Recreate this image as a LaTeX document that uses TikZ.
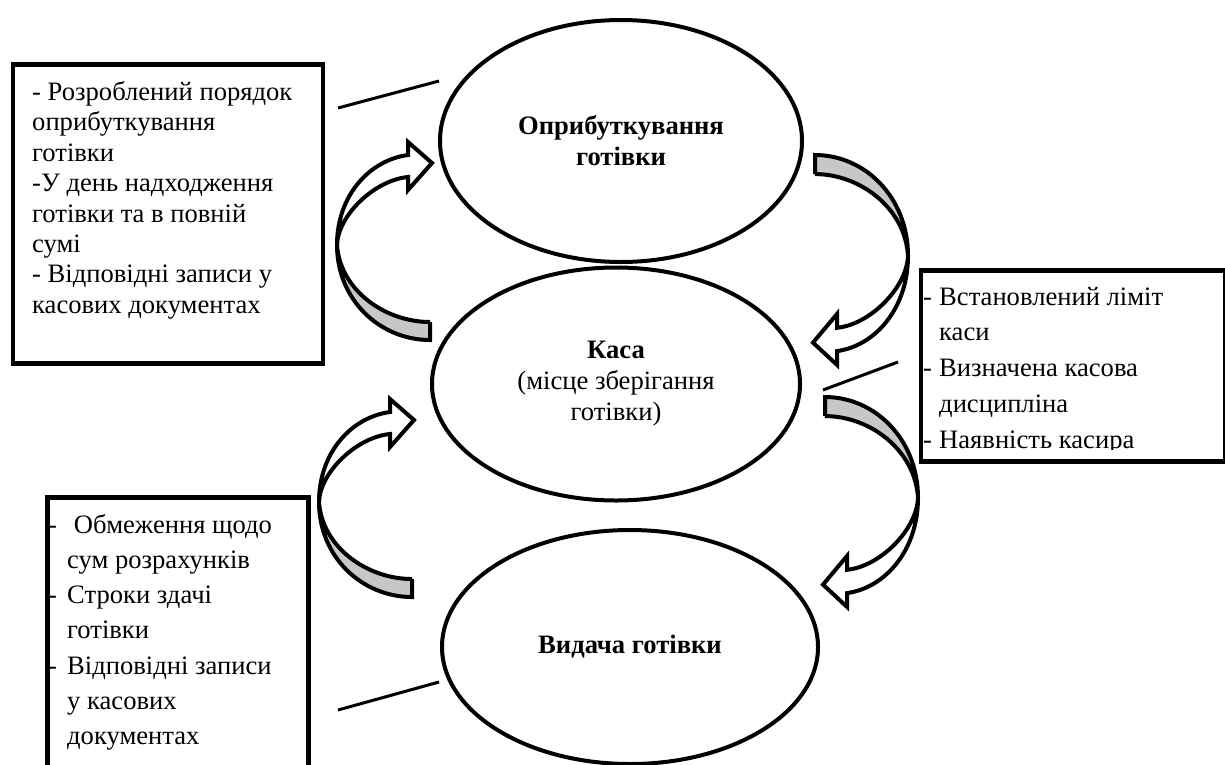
\documentclass[tikz,border=0pt]{standalone}
\usepackage{fontspec}
\setmainfont{Liberation Serif}
\usetikzlibrary{shapes.geometric}

\newcommand{\hangdash}[2][16pt]{\makebox[#1][l]{-}#2}
\newcommand{\hangcont}[2][16pt]{\hspace*{#1}#2}

\tikzset{
  stage/.style={ellipse, draw, line width=4pt, align=center,
    font=\fontsize{26.6}{31}\selectfont\bfseries},
  notebox/.style={draw, line width=4.5pt, anchor=north west, inner sep=0pt},
  noteline/.style={anchor=base west, inner sep=0pt,
    font=\fontsize{26.6}{30}\selectfont},
  link/.style={line width=3pt},
  arrowline/.style={line width=4pt},
  backgrey/.style={fill=black!22},
  twistarrow/.pic={
    % back face
    \fill[backgrey] (0,0) .. controls (-50,0) and (-93,-40) .. (-93,-95)
      .. controls (-90,-50) and (-45,-18) .. (0,-18) -- cycle;
    % front face
    \fill[white] (-93,-95) .. controls (-93,-145) and (-60,-180) .. (-22,-185)
      -- (-22,-198) -- (2,-177) -- (-22,-150) -- (-22,-163)
      .. controls (-55,-160) and (-92,-125) .. (-93,-95) -- cycle;
    \draw[arrowline] (0,-18) -- (0,0) .. controls (-50,0) and (-93,-40) .. (-93,-95)
      .. controls (-93,-145) and (-60,-180) .. (-22,-185)
      -- (-22,-198) -- (2,-177) -- (-22,-150) -- (-22,-163)
      .. controls (-55,-160) and (-92,-125) .. (-93,-95)
      .. controls (-90,-50) and (-45,-18) .. (0,-18);
  }
}

\begin{document}
\begin{tikzpicture}[x=1pt, y=-1pt]
  \useasboundingbox (0,0) rectangle (1225,764);

  % curved arrows
  \pic at (430,340) {twistarrow};
  \pic[xscale=-1, yscale=-1.06] at (815,155) {twistarrow};
  \pic at (412,597) {twistarrow};
  \pic[xscale=-1, yscale=-1.06] at (825,397) {twistarrow};

  % stages
  \node[stage, minimum width=362, minimum height=242] (inflow) at (621,141)
    {Оприбуткування\\готівки};
  \node[stage, minimum width=368, minimum height=233] (cash) at (616,384)
    {Каса\\\mdseries(місце зберігання\\\mdseries готівки)};
  \node[stage, minimum width=376, minimum height=234] (outflow) at (630,647)
    {Видача готівки};

  % rule boxes
  \node[notebox, minimum width=310, minimum height=299] (inrule) at (10.5,62) {};
  \node[notebox, minimum width=304.5, minimum height=191] (kasrule) at (918.5,268) {};
  \node[notebox, minimum width=261, minimum height=300] (outrule) at (45,495) {};

  \foreach \txt [count=\i from 0] in {- Розроблений порядок, оприбуткування,
      готівки, -У день надходження, готівки та в повній, сумі,
      - Відповідні записи у, касових документах}
    \node[noteline] (inln\i) at (32, 100.5+30.4*\i) {\txt};

  \begin{scope}
    \clip (920.5,270) rectangle (1221,449);
    \foreach \txt [count=\i from 0] in {{\hangdash{Встановлений ліміт}},
        {\hangcont{каси}}, {\hangdash{Визначена касова}},
        {\hangcont{дисципліна}}, {\hangdash{Наявність касира}}}
      \node[noteline] (kasln\i) at (923, 305+35.8*\i) {\txt};
  \end{scope}

  \foreach \txt [count=\i from 0] in {{\hangdash[19pt]{\ Обмеження щодо}},
      {\hangcont[19pt]{сум розрахунків}}, {\hangdash[19pt]{Строки здачі}},
      {\hangcont[19pt]{готівки}}, {\hangdash[19pt]{Відповідні записи}},
      {\hangcont[19pt]{у касових}}, {\hangcont[19pt]{документах}}}
    \node[noteline] (outln\i) at (48, 533+35.3*\i) {\txt};

  % links
  \coordinate (l1a) at (338,108);
  \coordinate (l1b) at (439,81);
  \coordinate (l2a) at (823,390);
  \coordinate (l2b) at (898,362);
  \coordinate (l3a) at (338,710);
  \coordinate (l3b) at (439,682);
  \draw[link] (l1a) -- (l1b);
  \draw[link] (l2a) -- (l2b);
  \draw[link] (l3a) -- (l3b);
\end{tikzpicture}
\end{document}
